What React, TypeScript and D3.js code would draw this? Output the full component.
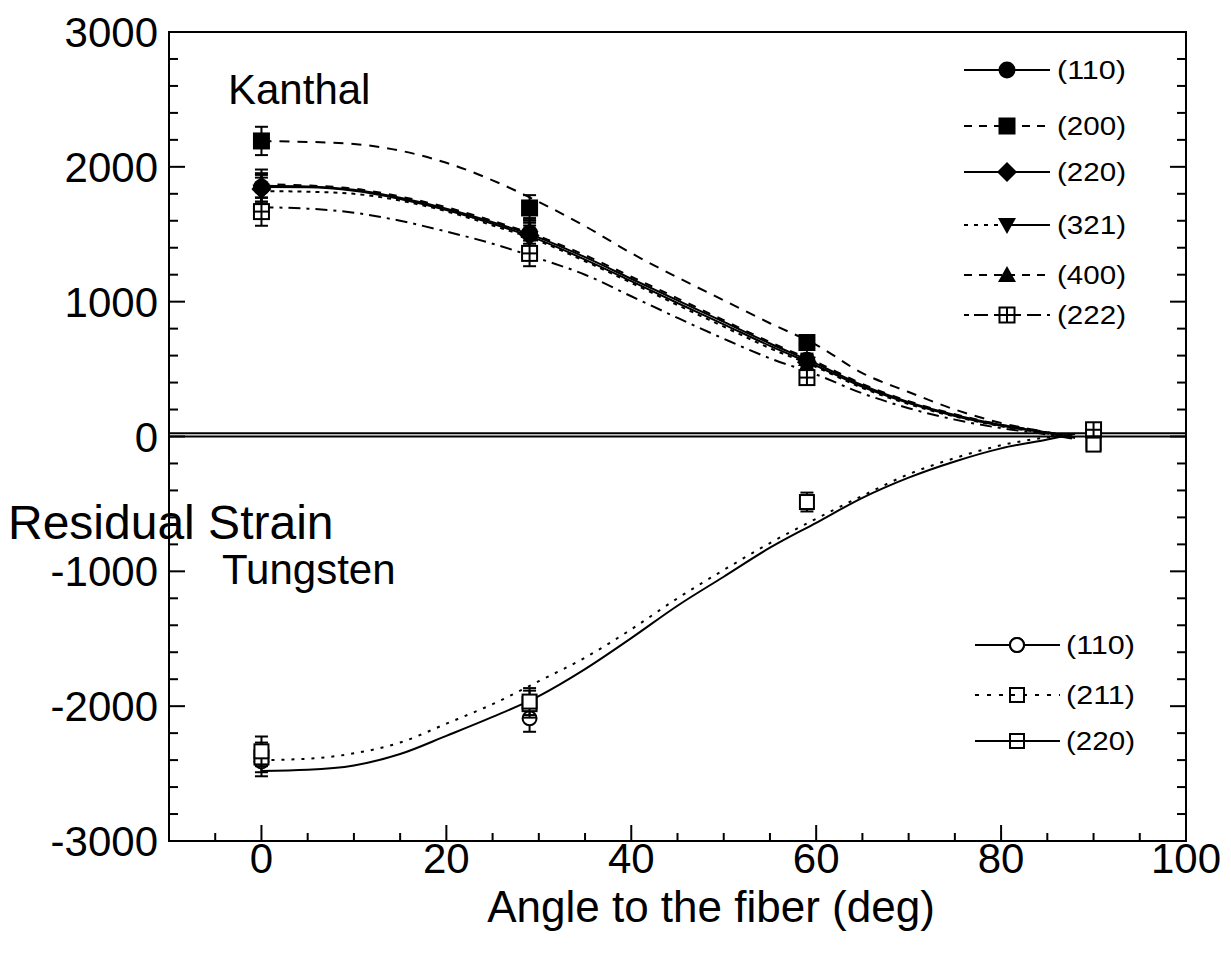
import React from "react";
import * as d3 from "d3";

// ---- Data ----
const angles = [0, 29, 59, 90];

// Kanthal measured points (null = not measured)
const k110 = [1848, 1510, 565, null];
const k200 = [2192, 1695, 697, null];
const k220 = [1835, 1490, 550, null];
const k321 = [1815, 1470, 540, null];
const k400 = [1875, 1525, 575, null];
const k222 = [1668, 1358, 437, 50];
const kErr = [105, 95, 40, 45];

// Tungsten measured points
const t110 = [-2410, -2090, null, null];
const t211 = [-2335, -1966, -486, -60];
const t220 = [-2380, -1985, null, -50];
const tErr = [110, 100, 70, 40];

// Fitted curves
const curveAngles = [0, 5, 10, 15, 20, 25, 30, 35, 40, 45, 50, 55, 60, 65, 70, 75, 80, 85, 88];
const fk110 = [1860, 1855, 1830, 1770, 1690, 1590, 1475, 1330, 1170, 1010, 850, 690, 540, 380, 255, 160, 85, 30, -5];
const fk200 = [2190, 2185, 2170, 2120, 2030, 1900, 1740, 1560, 1360, 1180, 1010, 840, 680, 470, 330, 200, 100, 30, -15];
const fk220 = [1850, 1848, 1822, 1762, 1680, 1578, 1460, 1312, 1152, 990, 832, 672, 525, 368, 248, 152, 80, 26, -8];
const fk321 = [1820, 1815, 1800, 1750, 1670, 1565, 1450, 1300, 1140, 975, 815, 655, 515, 360, 240, 148, 76, 22, -10];
const fk400 = [1870, 1862, 1838, 1780, 1700, 1600, 1485, 1345, 1185, 1025, 862, 700, 552, 390, 262, 165, 88, 32, -3];
const fk222 = [1700, 1690, 1660, 1600, 1520, 1430, 1320, 1200, 1040, 880, 725, 580, 460, 320, 210, 125, 62, 15, -18];
const ft220 = [-2480, -2472, -2440, -2355, -2220, -2080, -1925, -1725, -1495, -1255, -1040, -825, -640, -455, -305, -185, -88, -22, 20];
const ft211 = [-2400, -2390, -2350, -2270, -2130, -1985, -1815, -1640, -1430, -1200, -990, -790, -610, -440, -280, -160, -65, -5, 20];

const kLabels = ["(110)", "(200)", "(220)", "(321)", "(400)", "(222)"];
const tLabels = ["(110)", "(211)", "(220)"];

const xTicksMajor = [0, 20, 40, 60, 80, 100];
const yTicksMajor = [-3000, -2000, -1000, 0, 1000, 2000, 3000];

const W = 1231;
const H = 959;
const FONT = "'Liberation Sans', Arial, Helvetica, sans-serif";

const x = d3.scaleLinear().domain([-10, 100]).range([169, 1186]);
const y = d3.scaleLinear().domain([-3000, 3000]).range([841, 32]);

type MK = "circle" | "square" | "diamond" | "triDown" | "triUp" | "sqPlus" | "circleOpen" | "squareOpen" | "squareLine";

function Marker({ type, cx, cy, s = 1 }: { type: MK; cx: number; cy: number; s?: number }) {
  const h = 8.5 * s;
  switch (type) {
    case "circle":
      return <circle cx={cx} cy={cy} r={8.5 * s} fill="#000" />;
    case "square":
      return <rect x={cx - h} y={cy - h} width={2 * h} height={2 * h} fill="#000" />;
    case "diamond":
      return <polygon points={`${cx},${cy - 10 * s} ${cx + 10 * s},${cy} ${cx},${cy + 10 * s} ${cx - 10 * s},${cy}`} fill="#000" />;
    case "triDown":
      return <polygon points={`${cx - 9 * s},${cy - 7 * s} ${cx + 9 * s},${cy - 7 * s} ${cx},${cy + 9 * s}`} fill="#000" />;
    case "triUp":
      return <polygon points={`${cx - 9 * s},${cy + 7 * s} ${cx + 9 * s},${cy + 7 * s} ${cx},${cy - 9 * s}`} fill="#000" />;
    case "sqPlus":
      return (
        <g stroke="#000" strokeWidth={2} fill="none">
          <rect x={cx - 7.5} y={cy - 7.5} width={15} height={15} fill="#fff" />
          <line x1={cx} y1={cy - 7.5} x2={cx} y2={cy + 7.5} />
          <line x1={cx - 7.5} y1={cy} x2={cx + 7.5} y2={cy} />
        </g>
      );
    case "circleOpen":
      return <circle cx={cx} cy={cy} r={7} fill="#fff" stroke="#000" strokeWidth={2} />;
    case "squareOpen":
      return <rect x={cx - 7} y={cy - 7} width={14} height={14} fill="#fff" stroke="#000" strokeWidth={2} />;
    case "squareLine":
      return <rect x={cx - 7} y={cy - 7} width={14} height={14} fill="#fff" stroke="#000" strokeWidth={2} />;
  }
  return null;
}

const line = d3
  .line<[number, number]>()
  .x((d) => x(d[0]))
  .y((d) => y(d[1]))
  .curve(d3.curveMonotoneX);

function Curve({ vals, dash }: { vals: number[]; dash?: string }) {
  const pts: [number, number][] = curveAngles.map((a, i) => [a, vals[i]]);
  return <path d={line(pts) || ""} fill="none" stroke="#000" strokeWidth={2} strokeDasharray={dash} />;
}

function Points({ vals, err, type }: { vals: (number | null)[]; err: number[]; type: MK }) {
  return (
    <g>
      {vals.map((v, i) => {
        if (v === null) return null;
        const cx = x(angles[i]);
        const y1 = y(v + err[i]);
        const y2 = y(v - err[i]);
        return (
          <g key={i}>
            <g stroke="#000" strokeWidth={2}>
              <line x1={cx} x2={cx} y1={y1} y2={y2} />
              <line x1={cx - 6.5} x2={cx + 6.5} y1={y1} y2={y1} />
              <line x1={cx - 6.5} x2={cx + 6.5} y1={y2} y2={y2} />
            </g>
            <Marker type={type} cx={cx} cy={y(v)} />
          </g>
        );
      })}
    </g>
  );
}

const kStyles: { type: MK; dashL?: string; dashR?: string }[] = [
  { type: "circle" },
  { type: "square", dashL: "8,7", dashR: "8,7" },
  { type: "diamond" },
  { type: "triDown", dashL: "4,6", dashR: undefined },
  { type: "triUp", dashL: "8,7", dashR: "8,7" },
  { type: "sqPlus", dashL: "5,5,14,6", dashR: "14,6" },
];
const kLegendY = [70, 126, 172, 225, 275, 315];
const tStyles: { type: MK; dash?: string }[] = [
  { type: "circleOpen" },
  { type: "squareOpen", dash: "4,8" },
  { type: "squareLine" },
];
const tLegendY = [645, 695, 741];

export default function App() {
  const xMinor = d3.range(-5, 100, 5);
  const yMinor = d3.range(-2800, 3000, 200);
  const L = x(-10), R = x(100), T = y(3000), B = y(-3000);
  return (
    <svg width={W} height={H} style={{ position: "absolute", left: 0, top: 0, background: "#fff" }} fontFamily={FONT}>
      <rect x={0} y={0} width={W} height={H} fill="#fff" />
      {/* zero lines */}
      <line x1={L} x2={R} y1={y(0)} y2={y(0)} stroke="#000" strokeWidth={2} />
      <line x1={L} x2={R} y1={y(25)} y2={y(25)} stroke="#000" strokeWidth={2} />

      {/* curves */}
      <Curve vals={fk200} dash="10,8" />
      <Curve vals={fk110} />
      <Curve vals={fk220} />
      <Curve vals={fk321} dash="4,5" />
      <Curve vals={fk400} dash="8,8" />
      <Curve vals={fk222} dash="12,6,3,6" />
      <Curve vals={ft220} />
      <Curve vals={ft211} dash="3,7" />

      {/* points */}
      <Points vals={k200} err={kErr} type="square" />
      <Points vals={k400} err={kErr} type="triUp" />
      <Points vals={k321} err={kErr} type="triDown" />
      <Points vals={k220} err={kErr} type="diamond" />
      <Points vals={k110} err={kErr} type="circle" />
      <Points vals={k222} err={kErr} type="sqPlus" />
      <Points vals={t110} err={tErr} type="circleOpen" />
      <Points vals={t220} err={tErr} type="squareLine" />
      <Points vals={t211} err={tErr} type="squareOpen" />

      {/* frame */}
      <rect x={L} y={T} width={R - L} height={B - T} fill="none" stroke="#000" strokeWidth={2} />
      {/* ticks */}
      <g stroke="#000" strokeWidth={2}>
        {xMinor.map((v) => {
          const major = v % 20 === 0;
          const len = major ? 16 : 8;
          return <line key={"x" + v} x1={x(v)} x2={x(v)} y1={B} y2={B - len} />;
        })}
        {yMinor.map((v) => {
          const major = v % 1000 === 0;
          const len = major ? 16 : 9;
          return (
            <g key={"y" + v}>
              <line x1={L} x2={L + len} y1={y(v)} y2={y(v)} />
              <line x1={R} x2={R - len} y1={y(v)} y2={y(v)} />
            </g>
          );
        })}
      </g>
      {/* tick labels */}
      {xTicksMajor.map((v) => (
        <text key={"xl" + v} x={x(v)} y={873} fontSize={42} textAnchor="middle">
          {v}
        </text>
      ))}
      {yTicksMajor.map((v) => (
        <text key={"yl" + v} x={158} y={y(v) + 15} fontSize={42} textAnchor="end">
          {v}
        </text>
      ))}
      <text x={711} y={922} fontSize={44} textAnchor="middle">
        Angle to the fiber (deg)
      </text>
      <text x={8} y={539} fontSize={48}>
        Residual Strain
      </text>
      <text x={228} y={104} fontSize={42}>
        Kanthal
      </text>
      <text x={222} y={584} fontSize={42}>
        Tungsten
      </text>

      {/* Kanthal legend */}
      {kLabels.map((lab, i) => {
        const st = kStyles[i];
        const yy = kLegendY[i];
        return (
          <g key={"kl" + i}>
            <line x1={964} x2={1007} y1={yy} y2={yy} stroke="#000" strokeWidth={2} strokeDasharray={st.dashL} />
            <line x1={1007} x2={1050} y1={yy} y2={yy} stroke="#000" strokeWidth={2} strokeDasharray={st.dashR} />
            <Marker type={st.type} cx={1007} cy={yy} />
            <text x={1057} y={yy + 9} fontSize={25} textLength={69} lengthAdjust="spacingAndGlyphs">
              {lab}
            </text>
          </g>
        );
      })}
      {/* Tungsten legend */}
      {tLabels.map((lab, i) => {
        const st = tStyles[i];
        const yy = tLegendY[i];
        return (
          <g key={"tl" + i}>
            <Marker type={st.type} cx={1017} cy={yy} />
            <line x1={975} x2={1060} y1={yy} y2={yy} stroke="#000" strokeWidth={2} strokeDasharray={st.dash} />
            {i === 0 ? <Marker type={st.type} cx={1017} cy={yy} /> : null}
            <text x={1066} y={yy + 9} fontSize={25} textLength={69} lengthAdjust="spacingAndGlyphs">
              {lab}
            </text>
          </g>
        );
      })}
    </svg>
  );
}
